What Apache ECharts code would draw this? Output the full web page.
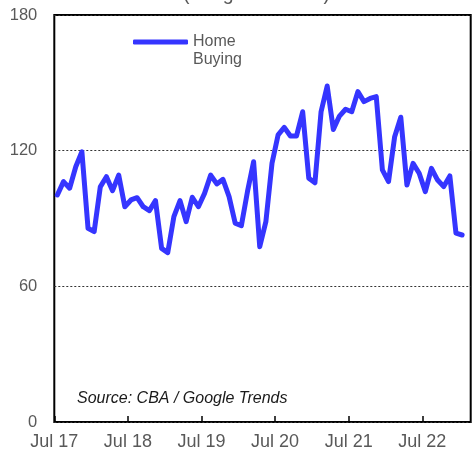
<!DOCTYPE html>
<html>
<head>
<meta charset="utf-8">
<script src="https://cdn.jsdelivr.net/npm/echarts@6/dist/echarts.min.js"></script>
<style>
  html, body { margin: 0; padding: 0; background: #fff; }
  #chart { width: 473px; height: 452px; }
</style>
</head>
<body>
<div id="chart"></div>
<script>
// monthly values from Jul 2017, plotted at mid-month
const homeBuying = [
  100.4, 106.3, 103.4, 112.9, 119.5, 85.7, 84.2, 104, 108.5, 102.3, 109.2, 95.2,
  98.2, 99.2, 95.2, 93.5, 97.9, 76.8, 74.9, 90.8, 97.9, 88.6, 99.4, 95.2,
  101.1, 109.2, 105.3, 107.3, 99.7, 87.9, 86.8, 101.9, 115.1, 77.5, 88.6, 114.4,
  127, 130.3, 126.5, 126.5, 137.2, 107.8, 105.8, 137.2, 148.6, 129.4, 135.3, 138.3,
  137.2, 146.1, 141.7, 143.1, 143.9, 111.5, 106.3, 126.2, 134.8, 104.8, 114.4, 110,
  101.9, 112.2, 107, 104.1, 108.8, 83.5, 82.7
];
const xTickMonths = [0, 12, 24, 36, 48, 60];
const xTickLabels = ['Jul 17', 'Jul 18', 'Jul 19', 'Jul 20', 'Jul 21', 'Jul 22'];

const font = 'Liberation Sans, Arial, sans-serif';
const grey = '#595959';

const chart = echarts.init(document.getElementById('chart'));
chart.setOption({
  animation: false,
  title: [
    {
      text: '(Weighted index)',
      left: 183,
      top: -15,
      padding: 0,
      textStyle: { fontFamily: font, fontSize: 19.5, fontWeight: 'normal', color: grey }
    },
    {
      text: 'Source: CBA / Google Trends',
      left: 77,
      top: 391,
      padding: 0,
      textStyle: { fontFamily: font, fontSize: 16, fontWeight: 'normal', fontStyle: 'italic', color: '#1a1a1a' }
    }
  ],
  legend: {
    left: 133,
    top: 15,
    padding: 0,
    icon: 'roundRect',
    itemWidth: 55,
    itemHeight: 5,
    itemGap: 4,
    data: ['Home\nBuying'],
    // blank first line keeps "Home" level with the line sample
    formatter: (name) => ' \n' + name,
    textStyle: { fontFamily: font, fontSize: 16, color: grey, lineHeight: 18 }
  },
  grid: {
    left: 54.3, right: 2.3, top: 15, bottom: 30,
    show: true, borderColor: '#000', borderWidth: 2
  },
  xAxis: {
    type: 'value',
    min: 0,
    max: 67.9,
    axisLine: { show: false },
    splitLine: { show: false },
    axisTick: {
      show: true, inside: true, length: 6,
      customValues: xTickMonths,
      lineStyle: { color: '#000', width: 1.5 }
    },
    axisLabel: {
      customValues: xTickMonths,
      margin: 11,
      fontFamily: font, fontSize: 18, color: grey,
      formatter: (v) => xTickLabels[xTickMonths.indexOf(Math.round(v))] || ''
    }
  },
  yAxis: {
    type: 'value',
    min: 0,
    max: 180,
    interval: 60,
    axisLine: { show: false },
    axisTick: { show: false },
    axisLabel: { margin: 17, fontFamily: font, fontSize: 16.5, color: grey },
    splitLine: {
      show: true,
      lineStyle: { color: '#333', width: 1, type: [2, 2] }
    }
  },
  series: [
    {
      name: 'Home\nBuying',
      type: 'line',
      data: homeBuying.map((v, i) => [i + 0.5, v]),
      symbol: 'none',
      itemStyle: { color: '#3535ff' },
      lineStyle: { color: '#3535ff', width: 5, cap: 'round', join: 'round' }
    }
  ]
});
</script>
</body>
</html>
